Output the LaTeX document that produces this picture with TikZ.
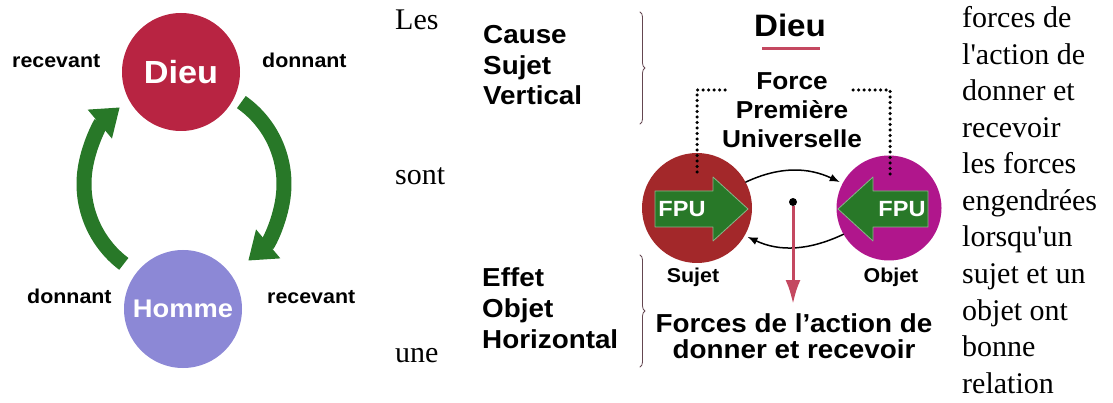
\documentclass[tikz,border=0pt]{standalone}
\usepackage{fontspec}
\newfontfamily\diagfont{Liberation Sans}[FakeStretch=1.07]
\newfontfamily\pagefont{Liberation Serif}
\usetikzlibrary{arrows.meta,calc,decorations.pathreplacing}
\definecolor{dieured}{RGB}{184,36,66}
\definecolor{hommeblue}{RGB}{140,136,214}
\definecolor{leafgreen}{RGB}{40,120,40}
\definecolor{sujetred}{RGB}{163,40,42}
\definecolor{objetmagenta}{RGB}{176,22,140}
\definecolor{roseline}{RGB}{196,72,96}
\definecolor{bracegray}{RGB}{100,70,80}

\begin{document}
\begin{tikzpicture}[x=1pt,y=1pt,line cap=round,line join=round,
	pagetext/.style={anchor=base west,inner sep=0pt,font=\pagefont\fontsize{30}{36}\selectfont},
	sidetext/.style={anchor=base west,inner sep=0pt,font=\diagfont\bfseries\fontsize{26}{30}\selectfont},
	titletext/.style={anchor=base,inner sep=0pt,font=\diagfont\bfseries\fontsize{24.5}{29}\selectfont},
	ringtext/.style={anchor=base west,inner sep=0pt,font=\diagfont\bfseries\fontsize{20}{24}\selectfont},
	ball/.style={circle,inner sep=0pt,text=white,font=\diagfont\bfseries\fontsize{32}{32}\selectfont},
	ringarrow/.style={leafgreen,line width=15pt,line cap=butt,-{Triangle[width=36pt,length=26pt]}},
	flowarrow/.style={black,line width=1.5pt,-{Latex[length=10pt,width=8pt]}},
	droparrow/.style={roseline,line width=3pt,line cap=butt,-{Latex[length=24pt,width=15pt]}},
	dotline/.style={black,line width=3.5pt,dash pattern=on 0pt off 5.5pt},
	bracestyle/.style={bracegray,line width=0.8pt,decorate,decoration={brace,amplitude=5pt}},
	fpuarrow/.style={fill=leafgreen,draw=leafgreen!55!white,line width=0.8pt}]
	\useasboundingbox (0,0) rectangle (1113,-403);

	% cycle Dieu / Homme
	\coordinate (ring) at (184,-184);
	\draw[ringarrow] ($(ring)+(55:100)$) arc[start angle=55,end angle=-50,radius=100];
	\draw[ringarrow] ($(ring)+(233:100)$) arc[start angle=233,end angle=130,radius=100];
	\node[ball,fill=dieured,minimum size=118pt] (dieu) at (181,-72) {Dieu};
	\node[ball,fill=hommeblue,minimum size=118pt,font=\diagfont\bfseries\fontsize{25.5}{26}\selectfont] (homme) at (183,-309) {Homme};
	\node[ringtext] (recevantA) at (12,-68) {recevant};
	\node[ringtext] (donnantA) at (262,-68) {donnant};
	\node[ringtext] (donnantB) at (27,-303) {donnant};
	\node[ringtext] (recevantB) at (267,-303) {recevant};

	% page text
	\node[pagetext] (les) at (395,-30) {Les};
	\node[pagetext] (sont) at (395,-185) {sont};
	\node[pagetext] (une) at (395,-362) {une};
	\foreach \w [count=\i] in {forces de,l'action de,donner et,recevoir,les forces,engendrées,lorsqu'un,sujet et un,objet ont,bonne,relation}
		\node[pagetext] (para\i) at (962,{-28-36.5*(\i-1)}) {\w};

	% cause / effet
	\foreach \w [count=\i] in {Cause,Sujet,Vertical}
		\node[sidetext] (cause\i) at (483,{-44-30.5*(\i-1)}) {\w};
	\foreach \w [count=\i] in {Effet,Objet,Horizontal}
		\node[sidetext] (effet\i) at (482,{-287-30.5*(\i-1)}) {\w};
	\draw[bracestyle] (640,-12) -- (640,-124);
	\draw[bracestyle] (640,-255) -- (640,-367);

	% Dieu et FPU
	\node[titletext,font=\diagfont\bfseries\fontsize{31}{32}\selectfont] (dieutitle) at (790,-37) {Dieu};
	\draw[roseline,line width=3pt,line cap=butt] (762,-49) -- (820,-49);
	\foreach \w [count=\i] in {Force,Première,Universelle}
		\node[titletext] (fpu\i) at (792,{-90-29*(\i-1)}) {\w};

	\node[circle,fill=sujetred,minimum size=110pt,inner sep=0pt] (sujet) at (697,-208) {};
	\node[circle,fill=objetmagenta,minimum size=105pt,inner sep=0pt] (objet) at (889,-208) {};
	\coordinate (dotL) at (730,-90);
	\coordinate (dotR) at (853,-90);
	\draw[dotline] ($(sujet.center)+(0,36)$) |- (dotL);
	\draw[dotline] (dotR) -| ($(objet.center)+(1,33)$);

	\draw[fpuarrow] (655,-191) -- (713,-191) -- (713,-177) -- (748,-209) -- (713,-241) -- (713,-227) -- (655,-227) -- cycle;
	\draw[fpuarrow] (928,-191) -- (873,-191) -- (873,-177) -- (838,-209) -- (873,-241) -- (873,-227) -- (928,-227) -- cycle;
	\node[inner sep=0pt,text=white,font=\diagfont\bfseries\fontsize{22}{22}\selectfont] (fpuL) at (682,-209) {FPU};
	\node[inner sep=0pt,text=white,font=\diagfont\bfseries\fontsize{22}{22}\selectfont] (fpuR) at (902,-209) {FPU};

	\draw[flowarrow,shorten >=3pt] (sujet.28) to[out=25,in=155] (objet.152);
	\draw[flowarrow,shorten >=3pt] (objet.210) to[out=-155,in=-25] (sujet.-30);

	\node[circle,fill=black,inner sep=0pt,minimum size=8pt] (hub) at (793,-202) {};
	\coordinate (drop) at (793,-304);
	\draw[droparrow] (hub) -- (drop);

	\node[titletext,font=\diagfont\bfseries\fontsize{20}{24}\selectfont] (sujetlabel) at (693,-283) {Sujet};
	\node[titletext,font=\diagfont\bfseries\fontsize{20}{24}\selectfont] (objetlabel) at (891,-283) {Objet};
	\node[titletext,font=\diagfont\bfseries\fontsize{26}{30}\selectfont] (forces1) at (794,-332) {Forces de l’action de};
	\node[titletext,font=\diagfont\bfseries\fontsize{26}{30}\selectfont] (forces2) at (794,-358) {donner et recevoir};
\end{tikzpicture}
\end{document}
